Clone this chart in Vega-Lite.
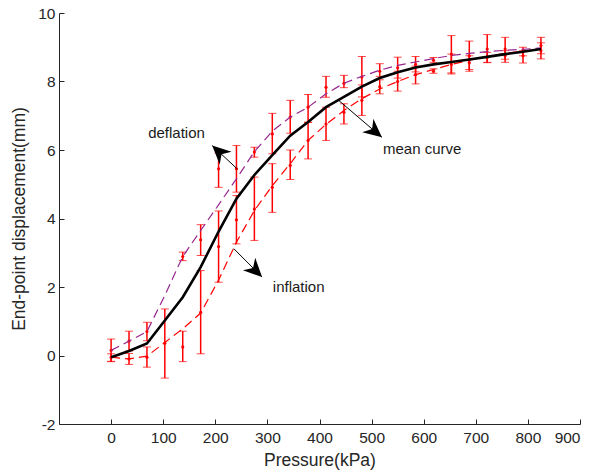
{
  "$schema": "https://vega.github.io/schema/vega-lite/v6.json",
  "width": 521,
  "height": 411,
  "autosize": "none",
  "padding": {"left": 59, "top": 13, "right": 12, "bottom": 49},
  "config": {
    "view": {"stroke": null},
    "font": "Liberation Sans",
    "axis": {
      "grid": false,
      "domainColor": "#262626",
      "tickColor": "#262626",
      "labelColor": "#262626",
      "titleColor": "#262626",
      "labelFont": "Liberation Sans",
      "titleFont": "Liberation Sans",
      "labelFontSize": 15.5,
      "titleFontSize": 17.5,
      "titleFontWeight": "normal",
      "tickSize": -5,
      "domainWidth": 1,
      "tickWidth": 1
    }
  },
  "datasets": {
    "lines": [
      {"p": 0, "mean": -0.05, "defl": 0.15, "infl": -0.05},
      {"p": 34.4, "mean": 0.13, "defl": 0.42, "infl": -0.1},
      {"p": 68.8, "mean": 0.35, "defl": 0.7, "infl": -0.02},
      {"p": 103.1, "mean": 1.02, "defl": 1.75, "infl": 0.38},
      {"p": 137.5, "mean": 1.7, "defl": 2.89, "infl": 0.78},
      {"p": 171.9, "mean": 2.58, "defl": 3.65, "infl": 1.24},
      {"p": 206.3, "mean": 3.62, "defl": 4.4, "infl": 2.2},
      {"p": 240.6, "mean": 4.58, "defl": 5.16, "infl": 3.31},
      {"p": 275, "mean": 5.27, "defl": 5.95, "infl": 4.23},
      {"p": 309.4, "mean": 5.85, "defl": 6.55, "infl": 4.96},
      {"p": 343.8, "mean": 6.42, "defl": 6.96, "infl": 5.6},
      {"p": 378.1, "mean": 6.82, "defl": 7.25, "infl": 6.28},
      {"p": 412.5, "mean": 7.25, "defl": 7.64, "infl": 6.75},
      {"p": 446.9, "mean": 7.55, "defl": 7.95, "infl": 7.15},
      {"p": 481.3, "mean": 7.85, "defl": 8.15, "infl": 7.5},
      {"p": 515.6, "mean": 8.1, "defl": 8.33, "infl": 7.78},
      {"p": 550, "mean": 8.27, "defl": 8.47, "infl": 8.0},
      {"p": 584.4, "mean": 8.41, "defl": 8.57, "infl": 8.2},
      {"p": 618.8, "mean": 8.5, "defl": 8.67, "infl": 8.35},
      {"p": 653.1, "mean": 8.57, "defl": 8.76, "infl": 8.5},
      {"p": 687.5, "mean": 8.64, "defl": 8.82, "infl": 8.62},
      {"p": 721.9, "mean": 8.72, "defl": 8.87, "infl": 8.73},
      {"p": 756.3, "mean": 8.8, "defl": 8.91, "infl": 8.82},
      {"p": 790.6, "mean": 8.87, "defl": 8.94, "infl": 8.89},
      {"p": 825, "mean": 8.95, "defl": 8.98, "infl": 8.95}
    ],
    "bars": [
      {"p": 0, "c": 0.15, "lo": -0.18, "hi": 0.48},
      {"p": 34.4, "c": 0.42, "lo": 0.13, "hi": 0.71},
      {"p": 68.8, "c": 0.7, "lo": 0.43, "hi": 0.97},
      {"p": 137.5, "c": 2.89, "lo": 2.77, "hi": 3.02},
      {"p": 171.9, "c": 3.38, "lo": 2.92, "hi": 3.82},
      {"p": 206.3, "c": 5.45, "lo": 4.91, "hi": 5.91},
      {"p": 240.6, "c": 5.45, "lo": 4.77, "hi": 6.13},
      {"p": 275, "c": 5.94, "lo": 5.79, "hi": 6.08},
      {"p": 309.4, "c": 6.47, "lo": 5.89, "hi": 7.07},
      {"p": 343.8, "c": 6.96, "lo": 6.49, "hi": 7.45},
      {"p": 378.1, "c": 7.25, "lo": 6.81, "hi": 7.62},
      {"p": 412.5, "c": 7.83, "lo": 7.54, "hi": 8.15},
      {"p": 446.9, "c": 7.95, "lo": 7.82, "hi": 8.18},
      {"p": 481.3, "c": 8.13, "lo": 7.55, "hi": 8.73},
      {"p": 515.6, "c": 8.3, "lo": 8.15, "hi": 8.52},
      {"p": 550, "c": 8.4, "lo": 8.1, "hi": 8.71},
      {"p": 584.4, "c": 8.5, "lo": 8.28, "hi": 8.73},
      {"p": 618.8, "c": 8.62, "lo": 8.56, "hi": 8.7},
      {"p": 653.1, "c": 8.8, "lo": 8.25, "hi": 9.34},
      {"p": 687.5, "c": 8.75, "lo": 8.3, "hi": 9.18},
      {"p": 721.9, "c": 8.95, "lo": 8.55, "hi": 9.37},
      {"p": 756.3, "c": 8.95, "lo": 8.65, "hi": 9.29},
      {"p": 790.6, "c": 8.9, "lo": 8.75, "hi": 9.0},
      {"p": 825, "c": 9.05, "lo": 8.81, "hi": 9.29},
      {"p": 0, "c": -0.05, "lo": -0.17, "hi": 0.05},
      {"p": 34.4, "c": -0.1, "lo": -0.26, "hi": 0.06},
      {"p": 68.8, "c": -0.05, "lo": -0.34, "hi": 0.25},
      {"p": 103.1, "c": 0.36, "lo": -0.66, "hi": 1.36},
      {"p": 137.5, "c": 0.25, "lo": -0.18, "hi": 0.71},
      {"p": 171.9, "c": 1.26, "lo": 0.05, "hi": 2.48},
      {"p": 206.3, "c": 3.18, "lo": 2.14, "hi": 4.22},
      {"p": 240.6, "c": 3.96, "lo": 3.26, "hi": 4.67},
      {"p": 275, "c": 4.28, "lo": 3.36, "hi": 5.21},
      {"p": 309.4, "c": 4.91, "lo": 4.18, "hi": 5.6},
      {"p": 343.8, "c": 5.55, "lo": 5.14, "hi": 6.0},
      {"p": 378.1, "c": 6.28, "lo": 5.74, "hi": 6.81},
      {"p": 412.5, "c": 6.76, "lo": 6.28, "hi": 7.25},
      {"p": 446.9, "c": 7.1, "lo": 6.76, "hi": 7.35},
      {"p": 481.3, "c": 7.45, "lo": 7.01, "hi": 7.9},
      {"p": 515.6, "c": 7.85, "lo": 7.64, "hi": 8.05},
      {"p": 550, "c": 8.0, "lo": 7.72, "hi": 8.3},
      {"p": 584.4, "c": 8.2, "lo": 7.93, "hi": 8.45},
      {"p": 618.8, "c": 8.3, "lo": 8.24, "hi": 8.37},
      {"p": 653.1, "c": 8.5, "lo": 8.22, "hi": 8.8},
      {"p": 687.5, "c": 8.55, "lo": 8.35, "hi": 8.75},
      {"p": 721.9, "c": 8.7, "lo": 8.56, "hi": 8.85},
      {"p": 756.3, "c": 8.75, "lo": 8.56, "hi": 8.9},
      {"p": 790.6, "c": 8.75, "lo": 8.54, "hi": 8.9},
      {"p": 825, "c": 8.9, "lo": 8.66, "hi": 9.13}
    ],
    "arrows": [
      {"name": "deflation", "x": 241.9, "y": 5.45, "x2": 194, "y2": 6.13},
      {"name": "inflation", "x": 235.4, "y": 3.12, "x2": 289.8, "y2": 2.29},
      {"name": "mean curve", "x": 436.7, "y": 7.45, "x2": 519.8, "y2": 6.37}
    ],
    "labels": [
      {"text": "deflation", "x": 125.6, "y": 6.51},
      {"text": "inflation", "x": 360, "y": 2.01},
      {"text": "mean curve", "x": 597, "y": 6.03}
    ]
  },
  "encoding": {
    "x": {
      "type": "quantitative",
      "scale": {"domain": [-100, 900], "nice": false},
      "axis": {"values": [0, 100, 200, 300, 400, 500, 600, 700, 800, 900], "labelExpr": "'' + datum.value", "title": "Pressure(kPa)", "labelPadding": 11, "titlePadding": 6}
    },
    "y": {
      "type": "quantitative",
      "scale": {"domain": [-2, 10], "nice": false},
      "axis": {"values": [-2, 0, 2, 4, 6, 8, 10], "labelExpr": "'' + datum.value", "title": "End-point displacement(mm)", "labelPadding": 9, "titlePadding": 9}
    }
  },
  "layer": [
    {
      "data": {"name": "bars"},
      "mark": {"type": "errorbar", "ticks": {"size": 8, "color": "#ff0000", "strokeWidth": 1.5}, "rule": {"color": "#ff0000", "strokeWidth": 1.5}},
      "encoding": {
        "x": {"field": "p", "type": "quantitative", "title": "Pressure(kPa)"},
        "y": {"field": "lo", "type": "quantitative", "title": "End-point displacement(mm)"},
        "y2": {"field": "hi"}
      }
    },
    {
      "data": {"name": "bars"},
      "mark": {"type": "point", "filled": true, "color": "#ff0000", "size": 10, "opacity": 1},
      "encoding": {
        "x": {"field": "p", "type": "quantitative", "title": "Pressure(kPa)"},
        "y": {"field": "c", "type": "quantitative", "title": "End-point displacement(mm)"}
      }
    },
    {
      "data": {"name": "lines"},
      "mark": {"type": "line", "color": "#ff0000", "strokeWidth": 1.2, "strokeDash": [9, 5]},
      "encoding": {
        "x": {"field": "p", "type": "quantitative", "title": "Pressure(kPa)"},
        "y": {"field": "infl", "type": "quantitative", "title": "End-point displacement(mm)"}
      }
    },
    {
      "data": {"name": "lines"},
      "mark": {"type": "line", "color": "#96268f", "strokeWidth": 1.2, "strokeDash": [9, 5]},
      "encoding": {
        "x": {"field": "p", "type": "quantitative", "title": "Pressure(kPa)"},
        "y": {"field": "defl", "type": "quantitative", "title": "End-point displacement(mm)"}
      }
    },
    {
      "data": {"name": "lines"},
      "mark": {"type": "line", "color": "#000000", "strokeWidth": 2.6},
      "encoding": {
        "x": {"field": "p", "type": "quantitative", "title": "Pressure(kPa)"},
        "y": {"field": "mean", "type": "quantitative", "title": "End-point displacement(mm)"}
      }
    },
    {
      "data": {"name": "arrows"},
      "mark": {"type": "rule", "color": "#000000", "strokeWidth": 1},
      "encoding": {
        "x": {"field": "x", "type": "quantitative", "title": "Pressure(kPa)"},
        "y": {"field": "y", "type": "quantitative", "title": "End-point displacement(mm)"},
        "x2": {"field": "x2"},
        "y2": {"field": "y2"}
      }
    },
    {
      "data": {"name": "arrows"},
      "transform": [{"filter": "datum.name == 'deflation'"}],
      "mark": {"type": "point", "shape": "M0,0L0.85,1.8L0,1.25L-0.85,1.8Z", "filled": true, "color": "#000000", "opacity": 1, "size": 420, "angle": 313},
      "encoding": {
        "x": {"field": "x2", "type": "quantitative", "title": "Pressure(kPa)"},
        "y": {"field": "y2", "type": "quantitative", "title": "End-point displacement(mm)"}
      }
    },
    {
      "data": {"name": "arrows"},
      "transform": [{"filter": "datum.name == 'inflation'"}],
      "mark": {"type": "point", "shape": "M0,0L0.85,1.8L0,1.25L-0.85,1.8Z", "filled": true, "color": "#000000", "opacity": 1, "size": 420, "angle": 135},
      "encoding": {
        "x": {"field": "x2", "type": "quantitative", "title": "Pressure(kPa)"},
        "y": {"field": "y2", "type": "quantitative", "title": "End-point displacement(mm)"}
      }
    },
    {
      "data": {"name": "arrows"},
      "transform": [{"filter": "datum.name == 'mean curve'"}],
      "mark": {"type": "point", "shape": "M0,0L0.85,1.8L0,1.25L-0.85,1.8Z", "filled": true, "color": "#000000", "opacity": 1, "size": 420, "angle": 130},
      "encoding": {
        "x": {"field": "x2", "type": "quantitative", "title": "Pressure(kPa)"},
        "y": {"field": "y2", "type": "quantitative", "title": "End-point displacement(mm)"}
      }
    },
    {
      "data": {"name": "labels"},
      "mark": {"type": "text", "font": "Liberation Sans", "fontSize": 15, "color": "#1a1a1a", "align": "center", "baseline": "middle"},
      "encoding": {
        "x": {"field": "x", "type": "quantitative", "title": "Pressure(kPa)"},
        "y": {"field": "y", "type": "quantitative", "title": "End-point displacement(mm)"},
        "text": {"field": "text"}
      }
    }
  ]
}
